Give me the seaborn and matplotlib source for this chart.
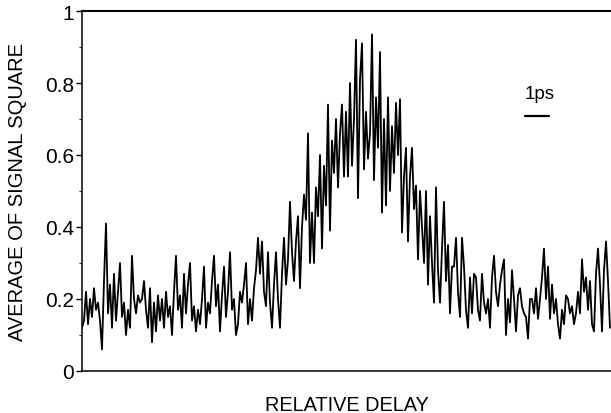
import numpy as np
import pandas as pd
import matplotlib
matplotlib.use("Agg")
import matplotlib.pyplot as plt
import seaborn as sns

# ---- data ----
signal_baseline_left = [
    0.12, 0.14, 0.22, 0.13, 0.20, 0.15, 0.23, 0.17, 0.19, 0.14,
    0.06, 0.25, 0.41, 0.16, 0.24, 0.12, 0.27, 0.14, 0.22,
    0.30, 0.15, 0.19, 0.10, 0.17, 0.12, 0.32, 0.20, 0.16, 0.21,
    0.19, 0.20, 0.25, 0.17, 0.12, 0.23, 0.08, 0.19, 0.11, 0.21, 0.14, 0.20, 0.12, 0.22, 0.15, 0.18,
]
signal_baseline_mid = [
    0.10, 0.22, 0.32, 0.17, 0.21, 0.12, 0.27, 0.16, 0.24, 0.30,
    0.14, 0.18, 0.11, 0.17, 0.13, 0.20, 0.29, 0.12, 0.19, 0.16,
    0.25, 0.32, 0.18, 0.24, 0.11, 0.21, 0.29, 0.15, 0.22, 0.33,
    0.17, 0.20, 0.10, 0.13, 0.22, 0.19, 0.24, 0.30, 0.13, 0.20,
    0.14, 0.23, 0.28, 0.37,
]
signal_rise = [
    0.27, 0.36, 0.22, 0.18, 0.33, 0.19, 0.12, 0.24, 0.33, 0.20,
    0.12, 0.27, 0.37, 0.24, 0.31, 0.47, 0.33, 0.25, 0.36, 0.43,
    0.23, 0.40, 0.49, 0.42, 0.66, 0.30, 0.44, 0.30, 0.51, 0.43,
    0.60, 0.34, 0.57, 0.46, 0.74, 0.39, 0.64, 0.55, 0.70, 0.51,
]
signal_peak = [
    0.66, 0.74, 0.54, 0.72, 0.54, 0.80, 0.57, 0.70, 0.92, 0.48,
    0.81, 0.91, 0.56, 0.72, 0.59, 0.66, 0.935, 0.53, 0.76, 0.62,
    0.886, 0.44, 0.70, 0.46, 0.76, 0.50,
]
signal_fall = [
    0.68, 0.55, 0.745, 0.60, 0.755, 0.385, 0.54, 0.62, 0.36, 0.54,
    0.62, 0.45, 0.515, 0.31, 0.50, 0.40, 0.30, 0.50, 0.24, 0.43,
    0.30, 0.19, 0.51, 0.28, 0.19, 0.34, 0.47, 0.25, 0.35, 0.16, 0.29,
]
signal_baseline_right = [
    0.29, 0.37, 0.22, 0.15, 0.37, 0.29, 0.17, 0.12, 0.26, 0.16,
    0.27, 0.26, 0.17, 0.14, 0.27, 0.19, 0.16, 0.20, 0.12, 0.26,
    0.32, 0.22, 0.18, 0.24, 0.28, 0.31, 0.10, 0.20, 0.135, 0.28,
    0.20, 0.11, 0.21, 0.23, 0.18, 0.16, 0.15, 0.09, 0.20,
    0.20, 0.16, 0.23, 0.145, 0.20, 0.26, 0.34, 0.20, 0.29, 0.145,
    0.24, 0.16, 0.20, 0.13, 0.09, 0.17, 0.13, 0.21, 0.20, 0.16,
    0.18, 0.13, 0.16, 0.22, 0.16, 0.31, 0.22, 0.26, 0.17, 0.25,
    0.13, 0.11, 0.27, 0.34, 0.24, 0.11, 0.28, 0.36, 0.25, 0.12,
]
y_tick_values = [0, 0.2, 0.4, 0.6, 0.8, 1.0]
y_tick_labels = ["0", "0.2", "0.4", "0.6", "0.8", "1"]
y_minor_values = [0.1, 0.3, 0.5, 0.7, 0.9]
x_label = "RELATIVE DELAY"
y_label = "AVERAGE OF SIGNAL SQUARE"
scale_label = "1ps"

signal = (signal_baseline_left + signal_baseline_mid + signal_rise
          + signal_peak + signal_fall + signal_baseline_right)
df = pd.DataFrame({"delay": np.arange(len(signal)), "signal": signal})

# ---- style ----
sns.set_theme(style="white")
plt.rcParams["font.family"] = ["Liberation Sans", "DejaVu Sans"]

W, H = 611, 414
fig = plt.figure(figsize=(W / 100, H / 100), dpi=100)
left_px, right_px, top_px, bottom_px = 82, 611, 12, 372
ax = fig.add_axes([left_px / W, 1 - bottom_px / H,
                   (right_px - left_px) / W, (bottom_px - top_px) / H])

sns.lineplot(data=df, x="delay", y="signal", ax=ax, color="black",
             linewidth=1.3, estimator=None)

ax.set_xlim(0, len(signal) - 0.5)
ax.set_ylim(0, 1)
ax.set_xticks([])
ax.set_yticks(y_tick_values)
ax.set_yticklabels(y_tick_labels)
ax.set_yticks(y_minor_values, minor=True)
ax.tick_params(axis="y", which="major", direction="out", length=4, width=1,
               pad=1.5, labelsize=15, colors="black", left=True)
ax.tick_params(axis="y", which="minor", direction="out", length=2.5, width=0.8,
               left=True)

for s in ["left", "bottom"]:
    ax.spines[s].set_color("black")
    ax.spines[s].set_linewidth(1.1)
ax.spines["top"].set_color("black")
ax.spines["top"].set_linewidth(1.5)
ax.spines["right"].set_visible(False)

ax.set_xlabel(x_label, fontsize=14.3, color="black")
ax.xaxis.set_label_coords(0.5, -0.068)
ax.set_ylabel(y_label, fontsize=14.5, color="black")
ax.yaxis.set_label_coords(-0.104, 0.5)

# scale bar annotation
ax.text(0.866, 0.758, scale_label, transform=ax.transAxes, ha="center",
        va="baseline", fontsize=13.5, color="black")
ax.plot([0.837, 0.883], [0.708, 0.708], transform=ax.transAxes,
        color="black", linewidth=1.6)

fig.savefig("out.png", dpi=100, facecolor="white")
